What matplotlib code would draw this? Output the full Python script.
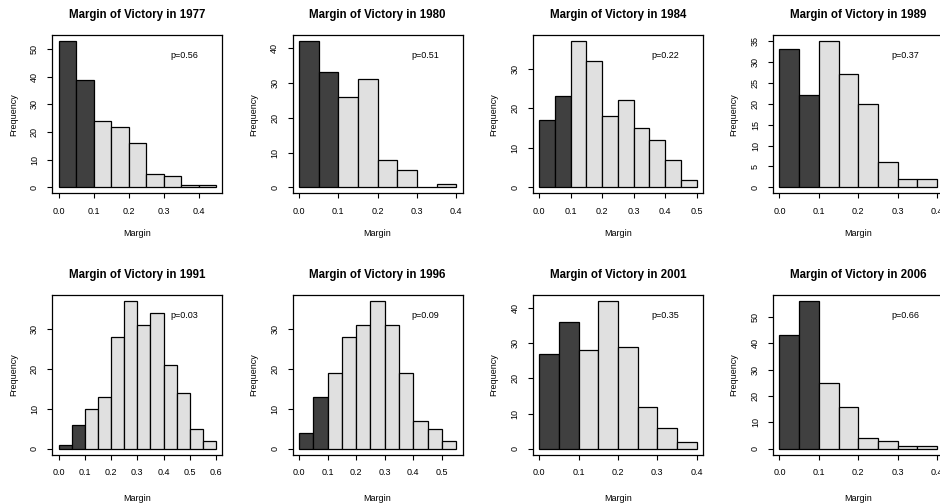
import numpy as np
import matplotlib
matplotlib.use("Agg")
from matplotlib import pyplot as plt

plt.rcParams["font.family"] = ["Liberation Sans", "DejaVu Sans"]

BIN_WIDTH = 0.05
DARK = "#404040"
LIGHT = "#e0e0e0"

years = [1977, 1980, 1984, 1989, 1991, 1996, 2001, 2006]
p_values = [0.56, 0.51, 0.22, 0.37, 0.03, 0.09, 0.35, 0.66]

# counts per 0.05-wide margin bin, starting at 0
counts_1977 = [53, 39, 24, 22, 16, 5, 4, 1, 1]
counts_1980 = [42, 33, 26, 31, 8, 5, 0, 1]
counts_1984 = [17, 23, 37, 32, 18, 22, 15, 12, 7, 2]
counts_1989 = [33, 22, 35, 27, 20, 6, 2, 2]
counts_1991 = [1, 6, 10, 13, 28, 37, 31, 34, 21, 14, 5, 2]
counts_1996 = [4, 13, 19, 28, 31, 37, 31, 19, 7, 5, 2]
counts_2001 = [27, 36, 28, 42, 29, 12, 6, 2]
counts_2006 = [43, 56, 25, 16, 4, 3, 1, 1]

all_counts = [counts_1977, counts_1980, counts_1984, counts_1989,
              counts_1991, counts_1996, counts_2001, counts_2006]

y_steps = {1989: 5}

W, H = 940, 504
fig = plt.figure(figsize=(W / 100, H / 100), dpi=100)

# panel geometry in pixels (the last column runs off the right edge, as in the source)
col_left = [52.3 + 240.3 * i for i in range(4)]
row_top = [35.0, 295.3]
row_height = [158.3, 159.3]
xlabel_offset = [40, 44]
ax_width = 170.0

for k, (year, counts, p) in enumerate(zip(years, all_counts, p_values)):
    r, c = divmod(k, 4)
    left = col_left[c] / W
    bottom = (H - row_top[r] - row_height[r]) / H
    ax = fig.add_axes([left, bottom, ax_width / W, row_height[r] / H])

    counts = np.array(counts)
    edges = np.arange(len(counts) + 1) * BIN_WIDTH
    colors = [DARK if e < 0.1 - 1e-9 else LIGHT for e in edges[:-1]]
    ax.bar(edges[:-1], counts, width=BIN_WIDTH, align="edge",
           color=colors, edgecolor="black", linewidth=0.9)

    xmax = edges[-1]
    ymax = counts.max()
    ax.set_xlim(-0.04 * xmax, 1.04 * xmax)
    ax.set_ylim(-0.04 * ymax, 1.04 * ymax)

    xt = np.arange(0, xmax + 1e-9, 0.1)
    ax.set_xticks(xt)
    ax.set_xticklabels([f"{t:.1f}" for t in xt])
    step = y_steps.get(year, 10)
    ax.set_yticks(np.arange(0, ymax + 1e-9, step))
    ax.tick_params(direction="out", length=3.6, width=0.8, labelsize=6.5,
                   pad=6, colors="black")
    for lab in ax.get_yticklabels():
        lab.set_rotation(90)
        lab.set_va("center")

    for sp in ax.spines.values():
        sp.set_linewidth(0.9)

    ax.set_title(f"Margin of Victory in {year}", fontsize=8.3,
                 fontweight="bold", pad=12.5)
    ax.set_xlabel("Margin", fontsize=6.5)
    ax.set_ylabel("Frequency", fontsize=6.5)
    ax.xaxis.label.set_va("center")
    ax.yaxis.label.set_va("center")
    ax.xaxis.set_label_coords(0.5, -xlabel_offset[r] / row_height[r])
    ax.yaxis.set_label_coords(-39 / ax_width, 0.5)

    ax.text(0.8 * xmax, 0.9 * ymax, f"p={p:.2f}", fontsize=6.5,
            ha="center", va="center")

fig.savefig("out.png", dpi=100)
